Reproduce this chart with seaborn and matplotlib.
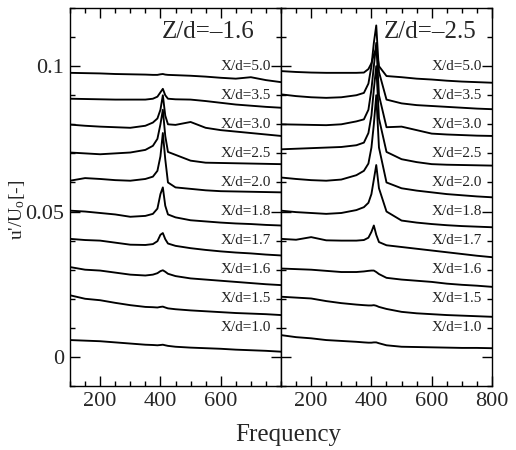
import matplotlib
matplotlib.use("Agg")
import matplotlib.pyplot as plt
import numpy as np
import pandas as pd
import seaborn as sns
from matplotlib.ticker import MultipleLocator, FixedLocator
import matplotlib.transforms as mtransforms

# ---------------- data ----------------
freq = [100, 150, 200, 250, 300, 350, 375, 390, 400, 408, 416, 425,
        450, 500, 550, 600, 650, 700, 750, 800]

xd_labels = ["X/d=1.0", "X/d=1.5", "X/d=1.6", "X/d=1.7", "X/d=1.8",
             "X/d=2.0", "X/d=2.5", "X/d=3.0", "X/d=3.5", "X/d=5.0"]
label_levels = [0.01, 0.02, 0.03, 0.04, 0.05, 0.06, 0.07, 0.08, 0.09, 0.10]

titles = ["Z/d=\u20131.6", "Z/d=\u20132.5"]

# Z/d = -1.6 (left panel)
left_1_0 = [0.0058, 0.0056, 0.0054, 0.0050, 0.0046, 0.0042, 0.0041, 0.0040, 0.0041, 0.0042,
            0.0040, 0.0038, 0.0035, 0.0032, 0.0030, 0.0028, 0.0025, 0.0023, 0.0021, 0.0018]
left_1_5 = [0.0212, 0.0200, 0.0195, 0.0186, 0.0178, 0.0172, 0.0171, 0.0170, 0.0172, 0.0173,
            0.0170, 0.0167, 0.0164, 0.0160, 0.0157, 0.0154, 0.0151, 0.0149, 0.0147, 0.0144]
left_1_6 = [0.0309, 0.0300, 0.0297, 0.0290, 0.0283, 0.0280, 0.0283, 0.0288, 0.0295, 0.0298,
            0.0293, 0.0286, 0.0278, 0.0270, 0.0266, 0.0262, 0.0258, 0.0254, 0.0250, 0.0247]
left_1_7 = [0.0406, 0.0402, 0.0400, 0.0393, 0.0386, 0.0385, 0.0388, 0.0398, 0.0420, 0.0426,
            0.0405, 0.0390, 0.0382, 0.0374, 0.0368, 0.0363, 0.0359, 0.0356, 0.0352, 0.0349]
left_1_8 = [0.0503, 0.0500, 0.0495, 0.0490, 0.0482, 0.0485, 0.0492, 0.0510, 0.0560, 0.0583,
            0.0520, 0.0490, 0.0480, 0.0470, 0.0466, 0.0462, 0.0459, 0.0457, 0.0454, 0.0452]
left_2_0 = [0.0606, 0.0615, 0.0612, 0.0608, 0.0606, 0.0612, 0.0620, 0.0640, 0.0690, 0.0770,
            0.0680, 0.0600, 0.0583, 0.0578, 0.0573, 0.0570, 0.0569, 0.0568, 0.0567, 0.0566]
left_2_5 = [0.0703, 0.0700, 0.0697, 0.0700, 0.0703, 0.0712, 0.0726, 0.0750, 0.0800, 0.0850,
            0.0760, 0.0705, 0.0695, 0.0675, 0.0668, 0.0667, 0.0666, 0.0665, 0.0664, 0.0663]
left_3_0 = [0.0799, 0.0795, 0.0792, 0.0790, 0.0788, 0.0795, 0.0806, 0.0820, 0.0850, 0.0900,
            0.0830, 0.0800, 0.0798, 0.0808, 0.0788, 0.0780, 0.0775, 0.0770, 0.0765, 0.0760]
left_3_5 = [0.0888, 0.0887, 0.0886, 0.0885, 0.0885, 0.0885, 0.0888, 0.0895, 0.0910, 0.0922,
            0.0900, 0.0888, 0.0886, 0.0885, 0.0880, 0.0874, 0.0868, 0.0864, 0.0860, 0.0857]
left_5_0 = [0.0977, 0.0976, 0.0975, 0.0973, 0.0972, 0.0971, 0.0970, 0.0970, 0.0972, 0.0973,
            0.0971, 0.0970, 0.0969, 0.0967, 0.0964, 0.0960, 0.0957, 0.0962, 0.0952, 0.0945]

# Z/d = -2.5 (right panel)
right_1_0 = [0.0075, 0.0068, 0.0064, 0.0058, 0.0055, 0.0052, 0.0050, 0.0049, 0.0049, 0.0050,
             0.0050, 0.0047, 0.0040, 0.0035, 0.0034, 0.0033, 0.0032, 0.0031, 0.0031, 0.0030]
right_1_5 = [0.0207, 0.0204, 0.0201, 0.0192, 0.0185, 0.0180, 0.0178, 0.0177, 0.0177, 0.0178,
             0.0176, 0.0172, 0.0165, 0.0155, 0.0150, 0.0147, 0.0144, 0.0142, 0.0140, 0.0138]
right_1_6 = [0.0304, 0.0302, 0.0300, 0.0296, 0.0292, 0.0292, 0.0294, 0.0296, 0.0297, 0.0297,
             0.0292, 0.0285, 0.0272, 0.0266, 0.0262, 0.0258, 0.0252, 0.0248, 0.0245, 0.0241]
right_1_7 = [0.0406, 0.0403, 0.0412, 0.0401, 0.0400, 0.0400, 0.0402, 0.0410, 0.0430, 0.0452,
             0.0420, 0.0395, 0.0384, 0.0378, 0.0372, 0.0366, 0.0360, 0.0354, 0.0348, 0.0343]
right_1_8 = [0.0503, 0.0498, 0.0495, 0.0492, 0.0495, 0.0505, 0.0515, 0.0530, 0.0560, 0.0610,
             0.0660, 0.0580, 0.0500, 0.0469, 0.0462, 0.0457, 0.0453, 0.0450, 0.0448, 0.0446]
right_2_0 = [0.0617, 0.0612, 0.0608, 0.0606, 0.0610, 0.0625, 0.0640, 0.0665, 0.0720, 0.0800,
             0.0900, 0.0720, 0.0600, 0.0580, 0.0572, 0.0566, 0.0560, 0.0556, 0.0552, 0.0549]
right_2_5 = [0.0714, 0.0716, 0.0718, 0.0720, 0.0722, 0.0728, 0.0737, 0.0770, 0.0830, 0.0920,
             0.1000, 0.0820, 0.0705, 0.0680, 0.0670, 0.0663, 0.0661, 0.0660, 0.0659, 0.0658]
right_3_0 = [0.0800, 0.0799, 0.0798, 0.0797, 0.0800, 0.0810, 0.0817, 0.0850, 0.0920, 0.1000,
             0.1080, 0.0900, 0.0790, 0.0792, 0.0780, 0.0768, 0.0765, 0.0763, 0.0761, 0.0760]
right_3_5 = [0.0903, 0.0897, 0.0893, 0.0891, 0.0893, 0.0900, 0.0908, 0.0940, 0.1000, 0.1080,
             0.1140, 0.0980, 0.0885, 0.0872, 0.0866, 0.0863, 0.0860, 0.0857, 0.0854, 0.0852]
right_5_0 = [0.0983, 0.0980, 0.0978, 0.0977, 0.0977, 0.0977, 0.0978, 0.0990, 0.1010, 0.1040,
             0.1060, 0.1000, 0.0966, 0.0962, 0.0957, 0.0954, 0.0950, 0.0947, 0.0945, 0.0943]

left_series = [left_1_0, left_1_5, left_1_6, left_1_7, left_1_8,
               left_2_0, left_2_5, left_3_0, left_3_5, left_5_0]
right_series = [right_1_0, right_1_5, right_1_6, right_1_7, right_1_8,
                right_2_0, right_2_5, right_3_0, right_3_5, right_5_0]

rows = []
for panel, series in (("left", left_series), ("right", right_series)):
    for lab, vals in zip(xd_labels, series):
        for f, v in zip(freq, vals):
            rows.append({"panel": panel, "xd": lab, "freq": f, "value": v})
df = pd.DataFrame(rows)

# ---------------- style ----------------
sns.set_style("ticks")
plt.rcParams["font.family"] = ["Liberation Serif", "DejaVu Serif"]
plt.rcParams["mathtext.fontset"] = "custom"
plt.rcParams["mathtext.rm"] = "Liberation Serif"
plt.rcParams["mathtext.it"] = "Liberation Serif:italic"

W, H = 516, 450
fig = plt.figure(figsize=(W / 100, H / 100), dpi=100)
ax_l = fig.add_axes([70 / W, 1 - 386 / H, 211 / W, 378 / H])
ax_r = fig.add_axes([281 / W, 1 - 386 / H, 211 / W, 378 / H])

for ax, panel, title, tx in ((ax_l, "left", titles[0], 0.436), (ax_r, "right", titles[1], 0.488)):
    sns.lineplot(data=df[df.panel == panel], x="freq", y="value", units="xd",
                 estimator=None, color="black", lw=1.35, ax=ax, legend=False)
    ax.set_xlim(100, 800)
    ax.set_ylim(-0.01, 0.12)
    ax.set_xlabel("")
    ax.set_ylabel("")
    ax.xaxis.set_major_locator(FixedLocator([200, 400, 600, 800]))
    ax.xaxis.set_minor_locator(MultipleLocator(50))
    ax.yaxis.set_major_locator(FixedLocator([0, 0.05, 0.1]))
    ax.yaxis.set_minor_locator(FixedLocator([0.01 * k for k in range(-1, 13)]))
    ax.tick_params(which="both", direction="in", top=True, right=True,
                   left=True, bottom=True, color="black", width=1.0)
    ax.tick_params(which="major", length=7, labelsize=16, pad=4)
    ax.tick_params(which="minor", length=3.5)
    for sp in ax.spines.values():
        sp.set_visible(True)
        sp.set_color("black")
        sp.set_linewidth(1.0)
    trans = mtransforms.blended_transform_factory(ax.transAxes, ax.transData)
    for lab, lev in zip(xd_labels, label_levels):
        ax.text(1 - 10 / 211, lev, lab, transform=trans, ha="right", va="center",
                fontsize=11, color="#222222")
    ax.text(tx, 0.937, title, transform=ax.transAxes, ha="left", va="center", fontsize=18)

ax_l.set_xticks([200, 400, 600])
ax_l.set_xticklabels(["200", "400", "600"])
ax_l.set_yticklabels(["0", "0.05", "0.1"])
ax_r.set_xticklabels(["200", "400", "600", "800"])
ax_r.tick_params(labelleft=False)

fig.text(288 / W, 1 - 435 / H, "Frequency", ha="center", va="center", fontsize=18)
fig.text(17 / W, 1 - 210 / H, r"u'/U$_{\mathrm{o}}$[-]", ha="center", va="center",
         rotation=90, fontsize=14)

fig.savefig("out.png", dpi=100)
